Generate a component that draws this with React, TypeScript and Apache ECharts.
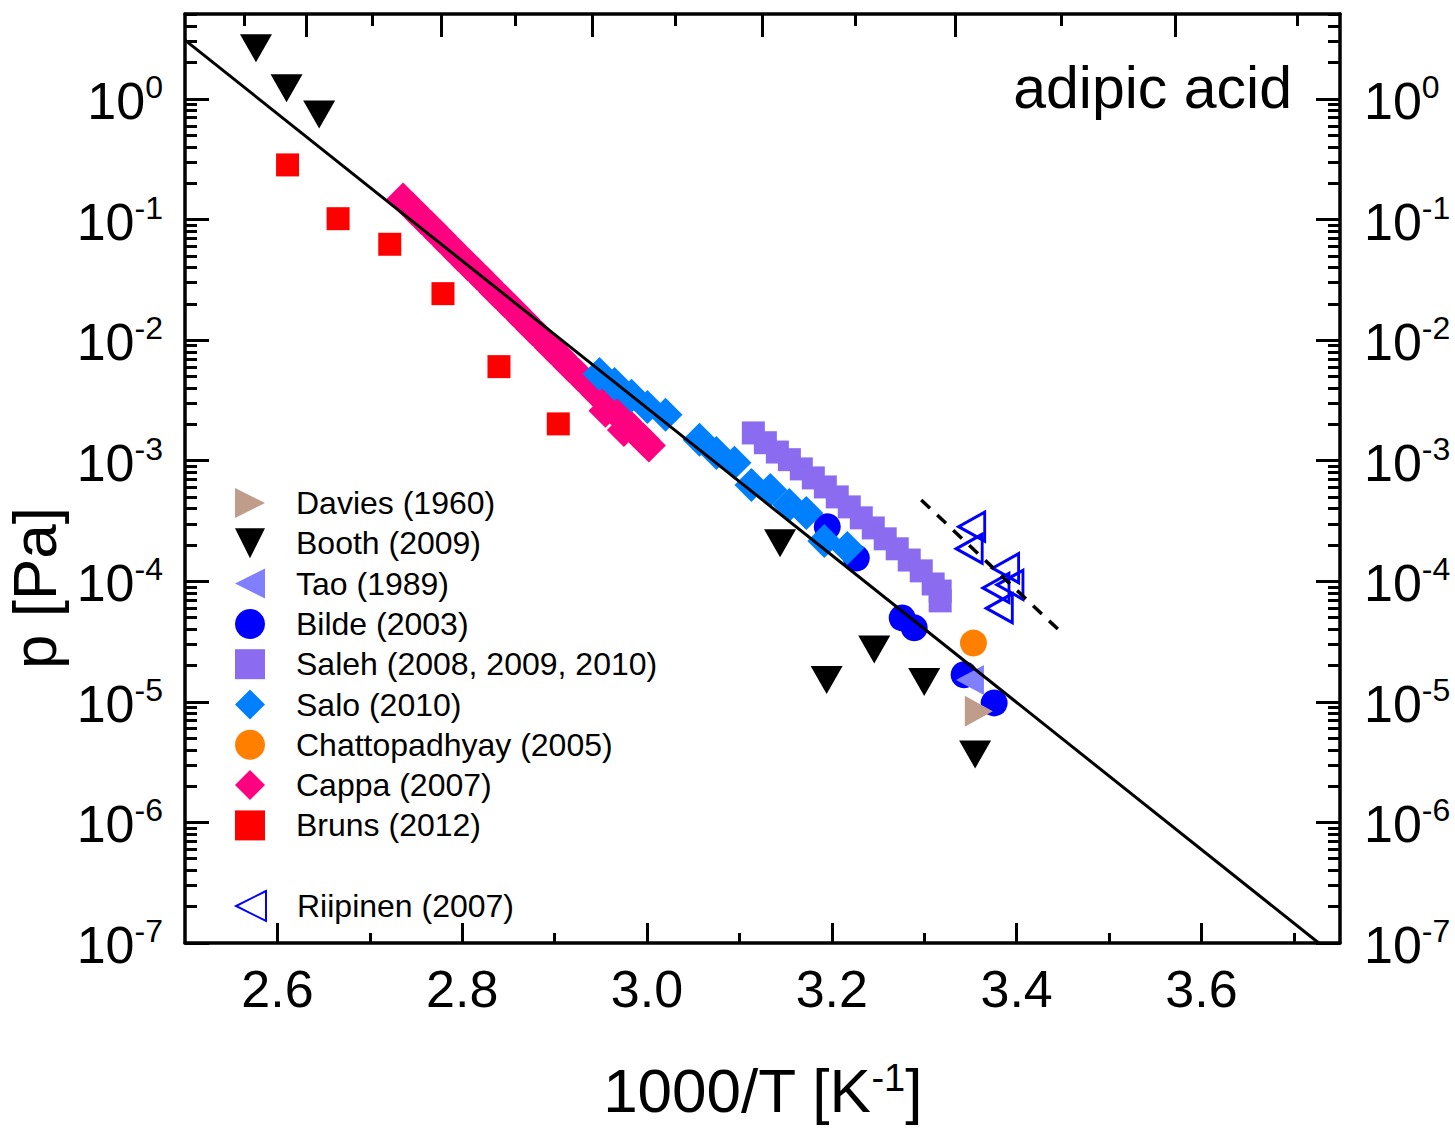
import React, { useEffect, useRef } from "react";
import * as echarts from "echarts";

const FONT = '"Liberation Sans", Arial, Helvetica, sans-serif';

// ---------- axes ----------
const X_MIN = 2.5;
const X_MAX = 3.75;
const LOG_MIN = -7;
const LOG_MAX = 0.705;

const xMajorTicks = [2.6, 2.8, 3.0, 3.2, 3.4, 3.6];
const xMinorTicks = [2.7, 2.9, 3.1, 3.3, 3.5, 3.7];
const topLongTempsK = [380, 360, 340, 320, 300, 280];
const topShortTempsK = [390, 370, 350, 330, 310, 290, 270];
const yDecades = [-7, -6, -5, -4, -3, -2, -1, 0];
const yMinorMultipliers = [2, 3, 4, 5, 6, 7, 8, 9];

// ---------- data (x = 1000/T [1/K], p = vapour pressure [Pa]) ----------
const fitLineX = [2.5, 3.727];
const fitLineP = [3.08, 1e-7];

const riipFitX = [3.2968, 3.449];
const riipFitP = [4.73e-4, 3.73e-5];

const daviesX = [3.3591];
const daviesP = [8.37e-6];

const boothX = [2.5768, 2.6099, 2.6452, 3.144, 3.1944, 3.2459, 3.3, 3.3551];
const boothP = [2.63, 1.23, 0.744, 2.07e-4, 1.52e-5, 2.72e-5, 1.46e-5, 3.66e-6];

const taoX = [3.3495];
const taoP = [1.52e-5];

const bildeX = [3.1951, 3.2265, 3.2762, 3.2892, 3.3432, 3.3757];
const bildeP = [2.83e-4, 1.56e-4, 4.97e-5, 4.11e-5, 1.68e-5, 9.8e-6];

const salehX = [
  3.1151, 3.1281, 3.1411, 3.1541, 3.167, 3.18, 3.193, 3.2059, 3.2189,
  3.2319, 3.2449, 3.2578, 3.2708, 3.2838, 3.2968, 3.3097, 3.3173, 3.3173,
];
const salehP = [
  1.7e-3, 1.41e-3, 1.18e-3, 1.02e-3, 8.55e-4, 7.2e-4, 6.06e-4, 5.01e-4, 4.14e-4,
  3.36e-4, 2.77e-4, 2.25e-4, 1.86e-4, 1.5e-4, 1.22e-4, 9.5e-5, 8.3e-5, 6.88e-5,
];

const saloX = [
  2.9486, 2.9649, 2.9832, 3.0005, 3.02, 3.0568, 3.0751, 3.0946, 3.113,
  3.1335, 3.154, 3.1724, 3.1919, 3.2168,
];
const saloP = [
  5.25e-3, 4.33e-3, 3.45e-3, 2.79e-3, 2.4e-3, 1.49e-3, 1.16e-3, 9.6e-4, 6.3e-4,
  5.73e-4, 4.3e-4, 3.69e-4, 2.16e-4, 1.89e-4,
];

const chattoX = [3.3533];
const chattoP = [3.07e-5];

const cappaX = [
  2.736, 2.746, 2.756, 2.766, 2.776, 2.786, 2.796, 2.806, 2.816, 2.826,
  2.836, 2.846, 2.856, 2.866, 2.876, 2.886, 2.896, 2.906, 2.916, 2.926,
  2.936, 2.946, 2.955, 2.956, 2.966, 2.975, 2.976, 2.986, 2.996, 3.002,
];
const cappaP = [
  0.147, 0.123, 0.103, 0.0867, 0.0726, 0.0608, 0.0509, 0.0427, 0.0358, 0.03,
  0.0251, 0.0211, 0.0177, 0.0148, 0.0124, 0.0104, 0.00871, 0.0073, 0.00611, 0.00513,
  0.0043, 0.0036, 0.0026, 0.00302, 0.00253, 0.0018, 0.00212, 0.00177, 0.00149, 0.00134,
];

const brunsX = [2.611, 2.6657, 2.7216, 2.7792, 2.8398, 2.904];
const brunsP = [0.284, 0.1017, 0.0624, 0.0243, 0.00603, 0.00202];

const riipX = [3.3514, 3.3487, 3.3881, 3.3928, 3.3777, 3.3813];
const riipP = [2.84e-4, 1.86e-4, 1.285e-4, 9.34e-5, 8.81e-5, 5.98e-5];

// ---------- symbols ----------
const TRI_RIGHT = "path://M0,0L10,5L0,10Z";
const TRI_LEFT = "path://M10,0L0,5L10,10Z";
const TRI_DOWN = "path://M0,0L10,0L5,10Z";
const SQUARE = "path://M0,0L10,0L10,10L0,10Z";
const DIAMOND = "path://M5,0L10,5L5,10L0,5Z";

const toPts = (xs: number[], ps: number[]) => xs.map((x, i) => [x, Math.log10(ps[i])]);

export default function App() {
  const ref = useRef<HTMLDivElement>(null);

  useEffect(() => {
    if (!ref.current) return;
    const chart = echarts.init(ref.current, undefined, { renderer: "svg" });

    const yMinor: number[] = [];
    yDecades.forEach((d) =>
      yMinorMultipliers.forEach((m) => {
        const v = d + Math.log10(m);
        if (v <= LOG_MAX) yMinor.push(v);
      })
    );

    const axisLineStyle = { color: "#000", width: 3.5 };
    const tickStyle = { color: "#000", width: 3 };

    const yLabel = {
      customValues: yDecades,
      fontFamily: FONT,
      color: "#000",
      formatter: (v: number) => `{b|10}{s|${Math.round(v)}}`,
      rich: {
        b: { fontSize: 52, fontFamily: FONT, color: "#000", lineHeight: 56, verticalAlign: "bottom" },
        s: { fontSize: 32, fontFamily: FONT, color: "#000", lineHeight: 32, verticalAlign: "top" },
      },
    };

    const scatter = (
      name: string,
      xs: number[],
      ps: number[],
      symbol: string,
      size: number | number[],
      itemStyle: any
    ) => ({
      name,
      type: "scatter",
      data: toPts(xs, ps),
      symbol,
      symbolSize: size,
      itemStyle: { opacity: 1, ...itemStyle },
      silent: true,
    });

    const legendNames = [
      "Davies (1960)",
      "Booth (2009)",
      "Tao (1989)",
      "Bilde (2003)",
      "Saleh (2008, 2009, 2010)",
      "Salo (2010)",
      "Chattopadhyay (2005)",
      "Cappa (2007)",
      "Bruns (2012)",
    ];

    const legendBase = {
      orient: "vertical",
      left: 230,
      itemWidth: 82,
      itemHeight: 30,
      itemGap: 8.3,
      selectedMode: false,
      textStyle: { fontSize: 32, fontFamily: FONT, color: "#000", lineHeight: 32 },
    };

    const option: any = {
      animation: false,
      backgroundColor: "#fff",
      grid: {
        left: 185,
        top: 14,
        width: 1155,
        height: 929,
        containLabel: false,
        outerBoundsMode: "none",
      },
      legend: [
        { ...legendBase, top: 482, data: legendNames },
        { ...legendBase, top: 885, data: ["Riipinen (2007)"] },
      ],
      graphic: [
        {
          type: "text",
          x: 1292,
          y: 88,
          style: {
            text: "adipic acid",
            fontSize: 59,
            fontFamily: FONT,
            fill: "#000",
            align: "right",
            verticalAlign: "middle",
          },
        },
        {
          type: "text",
          x: 34,
          y: 588,
          rotation: Math.PI / 2,
          style: {
            text: "p [Pa]",
            fontSize: 62,
            fontFamily: FONT,
            fill: "#000",
            align: "center",
            verticalAlign: "middle",
          },
        },
      ],
      xAxis: [
        {
          type: "value",
          position: "bottom",
          min: X_MIN,
          max: X_MAX,
          name: "1000/T [K{s|-1}]",
          nameLocation: "middle",
          nameGap: 116,
          nameTextStyle: {
            fontSize: 62,
            fontFamily: FONT,
            color: "#000",
            rich: {
              s: { fontSize: 38, fontFamily: FONT, color: "#000", verticalAlign: "top", lineHeight: 38 },
            },
          },
          axisLine: { show: true, onZero: false, lineStyle: axisLineStyle },
          axisTick: { show: true, inside: true, length: 20, lineStyle: tickStyle, customValues: xMajorTicks },
          axisLabel: {
            customValues: xMajorTicks,
            formatter: (v: number) => v.toFixed(1),
            fontSize: 52,
            fontFamily: FONT,
            color: "#000",
            margin: 20,
          },
          splitLine: { show: false },
        },
        {
          type: "value",
          position: "bottom",
          min: X_MIN,
          max: X_MAX,
          axisLine: { show: false, onZero: false },
          axisTick: { show: true, inside: true, length: 10, lineStyle: tickStyle, customValues: xMinorTicks },
          axisLabel: { show: false },
          splitLine: { show: false },
        },
        {
          type: "value",
          position: "top",
          min: X_MIN,
          max: X_MAX,
          axisLine: { show: true, onZero: false, lineStyle: axisLineStyle },
          axisTick: {
            show: true,
            inside: true,
            length: 23,
            lineStyle: tickStyle,
            customValues: topLongTempsK.map((t) => 1000 / t),
          },
          axisLabel: { show: false },
          splitLine: { show: false },
        },
        {
          type: "value",
          position: "top",
          min: X_MIN,
          max: X_MAX,
          axisLine: { show: false, onZero: false },
          axisTick: {
            show: true,
            inside: true,
            length: 12,
            lineStyle: tickStyle,
            customValues: topShortTempsK.map((t) => 1000 / t),
          },
          axisLabel: { show: false },
          splitLine: { show: false },
        },
      ],
      yAxis: [
        {
          type: "value",
          position: "left",
          min: LOG_MIN,
          max: LOG_MAX,
          axisLine: { show: true, onZero: false, lineStyle: axisLineStyle },
          axisTick: { show: true, inside: true, length: 24, lineStyle: tickStyle, customValues: yDecades },
          axisLabel: { ...yLabel, margin: 22 },
          splitLine: { show: false },
        },
        {
          type: "value",
          position: "left",
          min: LOG_MIN,
          max: LOG_MAX,
          axisLine: { show: false, onZero: false },
          axisTick: { show: true, inside: true, length: 12, lineStyle: tickStyle, customValues: yMinor },
          axisLabel: { show: false },
          splitLine: { show: false },
        },
        {
          type: "value",
          position: "right",
          min: LOG_MIN,
          max: LOG_MAX,
          axisLine: { show: true, onZero: false, lineStyle: axisLineStyle },
          axisTick: { show: true, inside: true, length: 24, lineStyle: tickStyle, customValues: yDecades },
          axisLabel: { ...yLabel, margin: 24 },
          splitLine: { show: false },
        },
        {
          type: "value",
          position: "right",
          min: LOG_MIN,
          max: LOG_MAX,
          axisLine: { show: false, onZero: false },
          axisTick: { show: true, inside: true, length: 12, lineStyle: tickStyle, customValues: yMinor },
          axisLabel: { show: false },
          splitLine: { show: false },
        },
      ],
      series: [
        {
          name: "fit",
          type: "line",
          data: toPts(fitLineX, fitLineP),
          symbol: "none",
          lineStyle: { color: "#000", width: 3 },
          clip: true,
          silent: true,
        },
        {
          name: "Riipinen fit",
          type: "line",
          data: toPts(riipFitX, riipFitP),
          symbol: "none",
          lineStyle: { color: "#000", width: 3.5, type: [12, 10] },
          clip: true,
          silent: true,
        },
        scatter("Bruns (2012)", brunsX, brunsP, SQUARE, 23, { color: "#ff0000" }),
        scatter("Cappa (2007)", cappaX, cappaP, DIAMOND, 34, { color: "#ff0080" }),
        scatter("Bilde (2003)", bildeX, bildeP, "circle", 27, { color: "#0000ff" }),
        scatter("Salo (2010)", saloX, saloP, DIAMOND, 34, { color: "#0080ff" }),
        scatter("Saleh (2008, 2009, 2010)", salehX, salehP, SQUARE, 23, { color: "#8b6cf0" }),
        scatter("Chattopadhyay (2005)", chattoX, chattoP, "circle", 27, { color: "#ff8000" }),
        scatter("Booth (2009)", boothX, boothP, TRI_DOWN, [32, 28], { color: "#000000" }),
        scatter("Tao (1989)", taoX, taoP, TRI_LEFT, [28, 30], { color: "#8080ff" }),
        scatter("Davies (1960)", daviesX, daviesP, TRI_RIGHT, [28, 31], { color: "#c09c8a" }),
        scatter("Riipinen (2007)", riipX, riipP, TRI_LEFT, [26, 29], {
          color: "rgba(0,0,0,0)",
          borderColor: "#0000ff",
          borderWidth: 3,
        }),
      ],
    };

    chart.setOption(option);
    return () => chart.dispose();
  }, []);

  return (
    <div
      ref={ref}
      style={{ position: "absolute", left: 0, top: 0, width: 1455, height: 1128, background: "#fff" }}
    />
  );
}
